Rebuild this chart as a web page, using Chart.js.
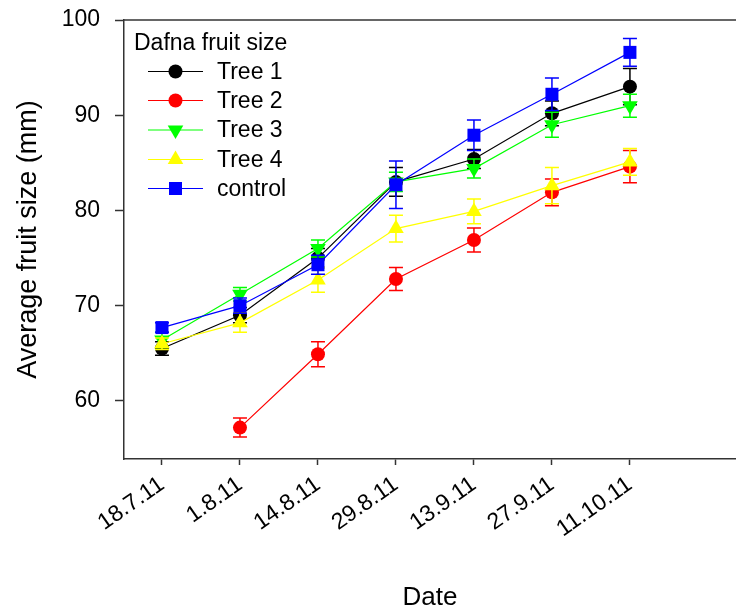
<!DOCTYPE html>
<html><head><meta charset="utf-8">
<script src="https://cdn.jsdelivr.net/npm/chart.js@4.4.0/dist/chart.umd.min.js"></script>
<style>html,body{margin:0;padding:0;background:#fff;overflow:hidden}#wrap{width:736px;height:609px;position:relative;overflow:hidden}canvas{display:block}</style>
</head><body><div id="wrap"><canvas id="c"></canvas></div>
<script>
const categories = ['18.7.11','1.8.11','14.8.11','29.8.11','13.9.11','27.9.11','11.10.11'];
const tree1    = [65.5, 69.0, 75.0, 83.0, 85.4, 90.2, 93.0];
const tree1Err = [0.7, 0.8, 1.0, 1.5, 1.0, 1.3, 1.9];
const tree2    = [null, 57.2, 64.9, 72.8, 76.9, 81.9, 84.6];
const tree2Err = [null, 1.0, 1.3, 1.2, 1.25, 1.4, 1.7];
const tree3    = [66.4, 71.2, 76.0, 83.0, 84.4, 89.0, 91.0];
const tree3Err = [0.8, 0.7, 0.9, 1.0, 1.0, 1.3, 1.2];
const tree4    = [66.0, 68.2, 72.7, 78.1, 79.9, 82.6, 85.1];
const tree4Err = [0.6, 1.0, 1.3, 1.4, 1.3, 1.9, 1.4];
const control    = [67.7, 70.0, 74.3, 82.7, 87.9, 92.2, 96.6];
const controlErr = [0.5, 0.8, 1.0, 2.5, 1.6, 1.7, 1.45];
const seriesNames = ['Tree 1','Tree 2','Tree 3','Tree 4','control'];
const legendTitle = 'Dafna fruit size';
const yTicks = [60, 70, 80, 90, 100];
const xTitle = 'Date';
const yTitle = 'Average fruit size (mm)';

const FONT = "'Liberation Sans', Arial, sans-serif";
const AXIS = '#333333';

function pts(vals, errs){
  const out = [];
  vals.forEach((v,i)=>{ if(v!=null) out.push({x:i, y:v, e:errs[i]}); });
  return out;
}

const styles = [
  {color:'#000000', shape:'circle', radius:7, rot:0},
  {color:'#ff0000', shape:'circle', radius:7, rot:0},
  {color:'#00ff00', shape:'triangle', radius:9, rot:180},
  {color:'#ffff00', shape:'triangle', radius:9, rot:0},
  {color:'#0000ff', shape:'rect', radius:9.2, rot:0}
];
const allVals = [[tree1,tree1Err],[tree2,tree2Err],[tree3,tree3Err],[tree4,tree4Err],[control,controlErr]];

const datasets = allVals.map((ve, k)=>({
  label: seriesNames[k],
  data: pts(ve[0], ve[1]),
  borderColor: styles[k].color,
  backgroundColor: styles[k].color,
  borderWidth: 1.2,
  pointStyle: styles[k].shape,
  pointRadius: styles[k].radius,
  pointRotation: styles[k].rot,
  pointBorderWidth: 0,
  pointHoverRadius: styles[k].radius,
  tension: 0,
  order: 5 - k
}));

const errorBars = {
  id:'errorBars',
  beforeDatasetDraw(chart, args){
    const ds = chart.data.datasets[args.index];
    const xs = chart.scales.x, ys = chart.scales.y, ctx = chart.ctx;
    ctx.save();
    ctx.strokeStyle = ds.borderColor;
    ctx.lineWidth = 1.5;
    ds.data.forEach(p=>{
      if(p.e==null) return;
      const x = xs.getPixelForValue(p.x);
      const y1 = ys.getPixelForValue(p.y + p.e), y2 = ys.getPixelForValue(p.y - p.e);
      ctx.beginPath();
      ctx.moveTo(x, y1); ctx.lineTo(x, y2);
      ctx.moveTo(x-7, y1); ctx.lineTo(x+7, y1);
      ctx.moveTo(x-7, y2); ctx.lineTo(x+7, y2);
      ctx.stroke();
    });
    ctx.restore();
  }
};

function drawMarker(ctx, shape, x, y, r, rot){
  ctx.beginPath();
  if(shape==='circle'){ ctx.arc(x,y,r,0,Math.PI*2); }
  else if(shape==='rect'){ const s=r*Math.SQRT1_2; ctx.rect(x-s,y-s,2*s,2*s); }
  else {
    const a = rot*Math.PI/180;
    for(let i=0;i<3;i++){
      const ang = a - Math.PI/2 + i*2*Math.PI/3;
      const px = x + Math.cos(ang)*r, py = y + Math.sin(ang)*r;
      if(i===0) ctx.moveTo(px,py); else ctx.lineTo(px,py);
    }
    ctx.closePath();
  }
  ctx.fill();
}

const frameLegend = {
  id:'frameLegend',
  afterDraw(chart){
    const ctx = chart.ctx, ca = chart.chartArea;
    ctx.save();
    ctx.strokeStyle = AXIS; ctx.lineWidth = 1.5;
    ctx.beginPath(); ctx.moveTo(ca.left, ca.top); ctx.lineTo(ca.right, ca.top); ctx.stroke();
    ctx.fillStyle = '#000';
    ctx.font = '23px ' + FONT;
    ctx.textBaseline = 'middle';
    ctx.textAlign = 'left';
    ctx.fillText(legendTitle, 134, 44);
    const rowY = [71.5, 100.5, 130, 159.5, 188.5];
    seriesNames.forEach((n,k)=>{
      const y = rowY[k];
      ctx.strokeStyle = styles[k].color; ctx.lineWidth = 1.2;
      ctx.beginPath(); ctx.moveTo(148,y); ctx.lineTo(203,y); ctx.stroke();
      ctx.fillStyle = styles[k].color;
      drawMarker(ctx, styles[k].shape, 175.5, y, styles[k].radius, styles[k].rot);
      ctx.fillStyle = '#000';
      ctx.fillText(n, 217, y+1);
    });
    ctx.restore();
  }
};

new Chart(document.getElementById('c'), {
  type:'line',
  data:{ datasets },
  plugins:[errorBars, frameLegend],
  options:{
    responsive:true, maintainAspectRatio:false, animation:false, devicePixelRatio:1,
    layout:{ autoPadding:false, padding:{top:20, left:0, right:0, bottom:0} },
    plugins:{ legend:{display:false}, tooltip:{enabled:false} },
    scales:{
      x:{
        type:'linear', min:-0.487, max:7.36,
        afterBuildTicks(s){ s.ticks = categories.map((c,i)=>({value:i})); },
        afterFit(s){ s.height = 150; s.paddingLeft = 0; s.paddingRight = 0; },
        ticks:{ color:'#000', font:{family:FONT, size:23}, minRotation:35, maxRotation:35, autoSkip:false, padding:6,
          callback:(v)=>categories[v] },
        grid:{ drawOnChartArea:false, drawTicks:true, tickLength:6, tickColor:AXIS, tickWidth:1.5 },
        border:{ display:true, color:AXIS, width:1.5 },
        title:{ display:true, text:xTitle, color:'#000', font:{family:FONT, size:26}, padding:{top:0,bottom:-4} }
      },
      y:{
        type:'linear', min:53.9, max:100,
        afterBuildTicks(s){ s.ticks = yTicks.map(v=>({value:v})); },
        afterFit(s){ s.width = 124; s.paddingTop = 0; s.paddingBottom = 0; },
        ticks:{ color:'#000', font:{family:FONT, size:23}, padding:15 },
        grid:{ drawOnChartArea:false, drawTicks:true, tickLength:9, tickColor:AXIS, tickWidth:1.5 },
        border:{ display:true, color:AXIS, width:1.5 },
        title:{ display:true, text:yTitle, color:'#000', font:{family:FONT, size:27}, padding:{top:12,bottom:0} }
      }
    }
  }
});
</script></body></html>
